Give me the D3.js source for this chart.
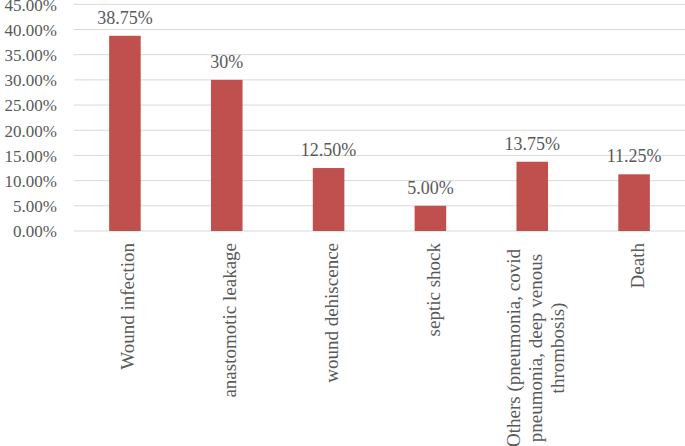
<!DOCTYPE html>
<html><head><meta charset="utf-8">
<script src="https://cdn.jsdelivr.net/npm/d3@7"></script>
<style>html,body{margin:0;padding:0;background:#fff;}svg{display:block;}</style>
</head><body>
<script>
const categories = [
  ["Wound infection"],
  ["anastomotic leakage"],
  ["wound dehiscence"],
  ["septic shock"],
  ["Others (pneumonia, covid", "pneumonia, deep venous", "thrombosis)"],
  ["Death"]
];
const values = [38.75, 30, 12.5, 5, 13.75, 11.25];
const valueLabels = ["38.75%", "30%", "12.50%", "5.00%", "13.75%", "11.25%"];
const yTicks = [0, 5, 10, 15, 20, 25, 30, 35, 40, 45];

const W = 685, H = 446;
const font = "'Liberation Serif','Times New Roman',serif";
const textColor = "#595959";

const svg = d3.select("body").append("svg").attr("width", W).attr("height", H);

const x = d3.scaleBand().domain(d3.range(values.length)).range([74, 685]).paddingInner(0.69).paddingOuter(0.345);
const y = d3.scaleLinear().domain([0, 45]).range([231, 4.3]);

// gridlines
svg.append("g").selectAll("line").data(yTicks).join("line")
  .attr("x1", 74).attr("x2", 685)
  .attr("y1", d => y(d)).attr("y2", d => y(d))
  .attr("stroke", "#d9d9d9").attr("stroke-width", 1);

// y axis labels
const yAxis = d3.axisLeft(y).tickValues(yTicks).tickFormat(d => d.toFixed(2) + "%").tickSize(0).tickPadding(0);
const ga = svg.append("g").attr("transform", "translate(57,0)").call(yAxis);
ga.select(".domain").remove();
ga.selectAll("text").attr("font-family", font).attr("font-size", 17).attr("fill", textColor).attr("dy", "0.34em");

// bars
svg.append("g").selectAll("rect").data(values).join("rect")
  .attr("x", (d, i) => x(i)).attr("width", x.bandwidth())
  .attr("y", d => y(d)).attr("height", d => y(0) - y(d))
  .attr("fill", "#C0504D");

// value labels
svg.append("g").selectAll("text").data(values).join("text")
  .attr("x", (d, i) => x(i) + x.bandwidth() / 2)
  .attr("y", d => y(d) - 12)
  .attr("text-anchor", "middle")
  .attr("font-family", font).attr("font-size", 18).attr("fill", textColor)
  .text((d, i) => valueLabels[i]);

// category labels
const lh = 22;
const cg = svg.append("g");
categories.forEach((lines, i) => {
  const cx = x(i) + x.bandwidth() / 2;
  const n = lines.length;
  if (n === 1) {
    cg.append("text")
      .attr("transform", `translate(${cx + 9.5},243) rotate(-90)`)
      .attr("text-anchor", "end")
      .attr("font-family", font).attr("font-size", 19).attr("fill", textColor)
      .text(lines[0]);
  } else {
    lines.forEach((t, k) => {
      const off = (k - (n - 1) / 2) * lh;
      cg.append("text")
        .attr("transform", `translate(${cx + 9.5 + off},348) rotate(-90)`)
        .attr("text-anchor", "middle")
        .attr("font-family", font).attr("font-size", 19).attr("fill", textColor)
        .text(t);
    });
  }
});
</script>
</body></html>
